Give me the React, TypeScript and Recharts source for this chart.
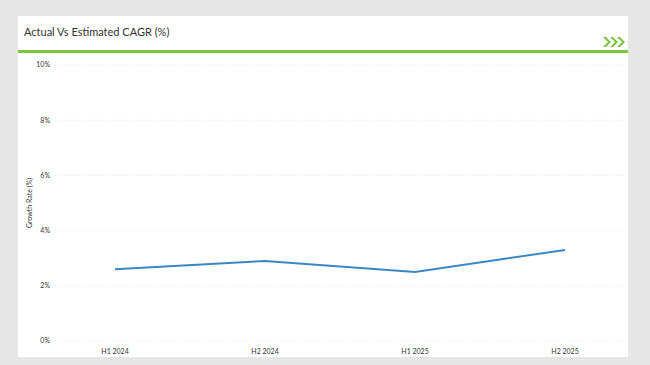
import React from "react";
import { LineChart, Line, XAxis, YAxis, CartesianGrid } from "recharts";

const PERIODS = ["H1 2024", "H2 2024", "H1 2025", "H2 2025"];
const GROWTH = [2.6, 2.9, 2.5, 3.3];
const Y_TICKS = [0, 2, 4, 6, 8, 10];

const data = PERIODS.map((p, i) => ({ period: p, growth: GROWTH[i] }));

const FONT = "Lato, 'Open Sans', sans-serif";

function Chevrons() {
  return (
    <svg width={24} height={12} style={{ position: "absolute", left: 603, top: 36 }}>
      {[0, 7, 14].map((x) => (
        <path key={x} d={`M${x} 1 L${x + 5} 6 L${x} 11 L${x + 3} 11 L${x + 8} 6 L${x + 3} 1 Z`} fill="#7dc242" />
      ))}
    </svg>
  );
}

export default function App() {
  return (
    <div
      style={{
        position: "fixed",
        left: 0,
        top: 0,
        width: 650,
        height: 365,
        background: "#e6e6e6",
        fontFamily: FONT,
        overflow: "hidden",
      }}
    >
      {/* card */}
      <div style={{ position: "absolute", left: 18, top: 16, width: 610, height: 341, background: "#fff" }} />
      <div style={{ position: "absolute", left: 24, top: 25, fontSize: 11, color: "#333" }}>
        Actual Vs Estimated CAGR (%)
      </div>
      <Chevrons />
      <div style={{ position: "absolute", left: 18, top: 50, width: 610, height: 3, background: "#7dc242" }} />

      <div style={{ position: "absolute", left: 0, top: 1 }}>
        <LineChart width={650} height={364} data={data} margin={{ top: 64, right: 25, bottom: 4, left: 0 }}>
          <CartesianGrid vertical={false} stroke="#e4e4e4" strokeDasharray="1 2" />
          <XAxis
            dataKey="period"
            axisLine={false}
            tickLine={false}
            tickSize={0}
            tickMargin={8}
            height={20}
            padding={{ left: 60, right: 60 }}
            tick={{ fontSize: 7, fill: "#333", fontFamily: FONT }}
          />
          <YAxis
            width={55}
            domain={[0, 10]}
            ticks={Y_TICKS}
            axisLine={false}
            tickLine={false}
            tickSize={0}
            tickMargin={5}
            tickFormatter={(v) => `${v}%`}
            tick={{ fontSize: 7, fill: "#333", fontFamily: FONT }}
            label={{
              value: "Growth Rate (%)",
              angle: -90,
              position: "insideLeft",
              offset: 30,
              style: { fontSize: 7, fill: "#333", fontFamily: FONT, textAnchor: "middle" },
            }}
          />
          <Line
            type="linear"
            dataKey="growth"
            stroke="#3a87c4"
            strokeWidth={2}
            dot={false}
            activeDot={false}
            isAnimationActive={false}
          />
        </LineChart>
      </div>
    </div>
  );
}
